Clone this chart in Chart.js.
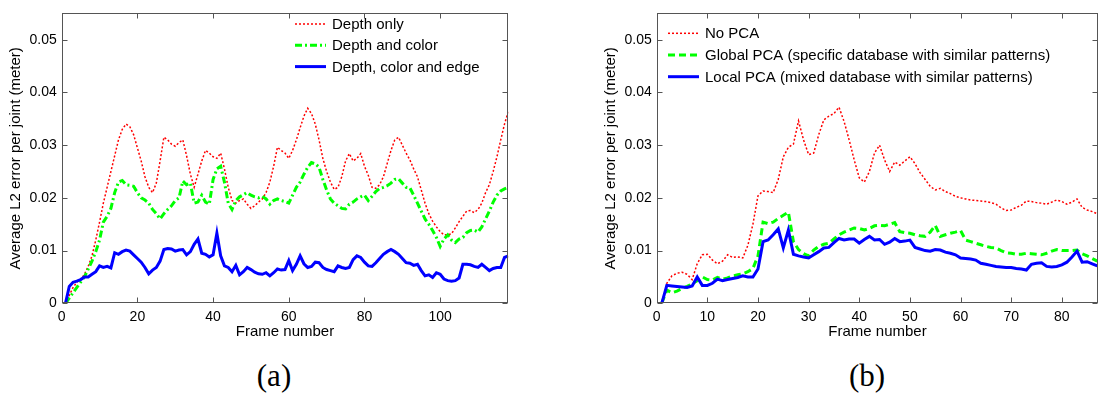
<!DOCTYPE html>
<html>
<head>
<meta charset="utf-8">
<script src="https://cdn.jsdelivr.net/npm/chart.js@4.4.1/dist/chart.umd.min.js"></script>
<style>
  html, body { margin: 0; padding: 0; background: #fff; }
  #wrap { position: relative; width: 1099px; height: 395px; overflow: hidden; }
  canvas { position: absolute; top: 0; }
  #chartA { left: 0; }
  #chartB { left: 595px; }
  .cap {
    position: absolute; top: 358px; width: 80px; text-align: center;
    font-family: "Liberation Serif", "DejaVu Serif", serif; font-size: 31px; color: #000;
  }
</style>
</head>
<body>
<div id="wrap">
  <canvas id="chartA" width="520" height="341"></canvas>
  <canvas id="chartB" width="504" height="341"></canvas>
  <div class="cap" style="left:234px">(a)</div>
  <div class="cap" style="left:827px">(b)</div>
</div>
<script>
// (a) per-frame error, frames 1..118
const depthOnly = [
  0, 0.0015, 0.003, 0.004, 0.0045, 0.0055, 0.007, 0.009, 0.012, 0.0154,
  0.019, 0.022, 0.025, 0.028, 0.031, 0.033, 0.034, 0.0335, 0.032, 0.0295,
  0.027, 0.024, 0.022, 0.021, 0.0228, 0.027, 0.0315, 0.031, 0.0302, 0.0298,
  0.0305, 0.031, 0.028, 0.0245, 0.022, 0.0245, 0.027, 0.029, 0.0285, 0.0278,
  0.0275, 0.0285, 0.0255, 0.022, 0.0195, 0.019, 0.0195, 0.0198, 0.0188, 0.018,
  0.0185, 0.0192, 0.0198, 0.021, 0.023, 0.026, 0.0296, 0.029, 0.0285, 0.0275,
  0.029, 0.031, 0.0333, 0.0355, 0.037, 0.036, 0.034, 0.031, 0.0275, 0.025,
  0.023, 0.0216, 0.022, 0.024, 0.027, 0.0284, 0.027, 0.0275, 0.0284, 0.026,
  0.0243, 0.022, 0.0218, 0.0225, 0.024, 0.0265, 0.029, 0.031, 0.0315, 0.03,
  0.0285, 0.0272, 0.0255, 0.024, 0.0215, 0.019, 0.017, 0.0156, 0.0145, 0.0136,
  0.013, 0.013, 0.0132, 0.0143, 0.0155, 0.0165, 0.0175, 0.0176, 0.0172, 0.0178,
  0.019, 0.021, 0.0225, 0.025, 0.0278, 0.031, 0.034, 0.0364
];
const depthColor = [
  0, 0.001, 0.002, 0.003, 0.004, 0.005, 0.0065, 0.008, 0.0098, 0.012,
  0.0154, 0.0165, 0.018, 0.021, 0.023, 0.0233, 0.0225, 0.0224, 0.0222, 0.021,
  0.02, 0.0196, 0.019, 0.0178, 0.017, 0.016, 0.017, 0.0178, 0.0185, 0.0195,
  0.02, 0.0232, 0.0225, 0.0228, 0.019, 0.0192, 0.0205, 0.0192, 0.0188, 0.0235,
  0.0255, 0.026, 0.023, 0.019, 0.0178, 0.0195, 0.0202, 0.0206, 0.021, 0.0205,
  0.0202, 0.02, 0.0203, 0.0198, 0.0188, 0.0195, 0.0198, 0.0195, 0.0193, 0.019,
  0.0205, 0.022, 0.023, 0.0245, 0.0258, 0.0267, 0.0265, 0.0258, 0.0235, 0.0215,
  0.0198, 0.019, 0.0185, 0.018, 0.0179, 0.0188, 0.0192, 0.0198, 0.0202, 0.0205,
  0.0195, 0.0203, 0.0212, 0.0218, 0.022, 0.0223, 0.0228, 0.0235, 0.0236, 0.0228,
  0.022, 0.0219, 0.0205, 0.019, 0.0175, 0.016, 0.015, 0.0138, 0.0125, 0.0108,
  0.0122, 0.013, 0.012, 0.0115, 0.0122, 0.0125, 0.0134, 0.0138, 0.0139, 0.0135,
  0.0145, 0.016, 0.0175, 0.0192, 0.0205, 0.0213, 0.0217, 0.022
];
const depthColorEdge = [
  0, 0.0032, 0.004, 0.0042, 0.0045, 0.005, 0.005, 0.0055, 0.006, 0.0071,
  0.0068, 0.007, 0.0067, 0.0096, 0.0093, 0.0098, 0.0101, 0.0099, 0.0092, 0.0085,
  0.0078, 0.0068, 0.0056, 0.0063, 0.0068, 0.008, 0.0102, 0.0104, 0.0103, 0.0099,
  0.0101, 0.0102, 0.0092, 0.0098, 0.0112, 0.0122, 0.0095, 0.0093, 0.0088, 0.0092,
  0.0133, 0.009, 0.0071, 0.0068, 0.006, 0.0072, 0.0054, 0.006, 0.0068, 0.0064,
  0.0059, 0.0056, 0.0055, 0.0058, 0.0052, 0.0058, 0.0065, 0.0063, 0.0064, 0.0081,
  0.0062, 0.0074, 0.009, 0.0075, 0.0068, 0.007, 0.0078, 0.0077, 0.0068, 0.0064,
  0.0062, 0.006, 0.0071, 0.0068, 0.0066, 0.0068, 0.0083, 0.009, 0.0087, 0.0078,
  0.0071, 0.007, 0.0077, 0.0085, 0.0093, 0.0098, 0.0102, 0.0098, 0.0093, 0.0085,
  0.0077, 0.0076, 0.0072, 0.0074, 0.0062, 0.0052, 0.0054, 0.0049, 0.0058, 0.0055,
  0.0046, 0.0043, 0.0042, 0.0043, 0.0048, 0.0074, 0.0074, 0.0073, 0.007, 0.0068,
  0.0074, 0.0068, 0.0062, 0.0066, 0.0068, 0.0068, 0.0087, 0.009
];

// (b) per-frame error, frames 1..87
const noPca = [
  0, 0.0038, 0.0052, 0.0057, 0.0059, 0.0055, 0.0045, 0.0075, 0.0092, 0.0093,
  0.0082, 0.0075, 0.008, 0.0092, 0.0087, 0.0088, 0.0086, 0.011, 0.015, 0.0204,
  0.0213, 0.0212, 0.021, 0.0235, 0.0278, 0.0296, 0.0302, 0.0346, 0.031, 0.0282,
  0.0285, 0.032, 0.0348, 0.0355, 0.036, 0.0372, 0.0345, 0.031, 0.0272, 0.0238,
  0.023, 0.025, 0.0285, 0.03, 0.0272, 0.025, 0.0268, 0.0262, 0.027, 0.0278,
  0.0265, 0.0248, 0.0235, 0.0222, 0.0215, 0.0218, 0.0212, 0.0208, 0.0203, 0.02,
  0.0198, 0.0196, 0.0195, 0.0194, 0.0193, 0.0191, 0.0188, 0.0181, 0.0176, 0.0177,
  0.0182, 0.0186, 0.0194, 0.0193, 0.0191, 0.019, 0.0188, 0.0192, 0.0196, 0.0193,
  0.0188, 0.0192, 0.0198, 0.0182, 0.0177, 0.0174, 0.017
];
const globalPca = [
  0, 0.0025, 0.002, 0.0023, 0.0028, 0.0032, 0.0037, 0.0043, 0.005, 0.0045,
  0.0044, 0.0049, 0.0046, 0.0048, 0.0052, 0.0054, 0.0056, 0.006, 0.0066, 0.009,
  0.0154, 0.0151, 0.0154, 0.0161, 0.0167, 0.0173, 0.0117, 0.0102, 0.0094, 0.009,
  0.0101, 0.0108, 0.0112, 0.0114, 0.0122, 0.013, 0.0135, 0.0139, 0.0143, 0.0142,
  0.0139, 0.0142, 0.0147, 0.0148, 0.0147, 0.015, 0.0153, 0.0136, 0.0134, 0.0133,
  0.013, 0.0128, 0.0127, 0.0135, 0.0148, 0.0127, 0.013, 0.0133, 0.0135, 0.0138,
  0.012, 0.0117, 0.0114, 0.0111, 0.0108, 0.0106, 0.0105, 0.01, 0.0096, 0.0095,
  0.0093, 0.0093, 0.0095, 0.0094, 0.0093, 0.0092, 0.0095, 0.0099, 0.0102, 0.01,
  0.01, 0.01, 0.0101, 0.0094, 0.009, 0.0085, 0.008
];
const localPca = [
  0, 0.0034, 0.0033, 0.0032, 0.0031, 0.003, 0.0033, 0.005, 0.0034, 0.0034,
  0.0038, 0.0046, 0.0043, 0.0045, 0.0047, 0.0049, 0.0052, 0.005, 0.005, 0.0065,
  0.0117, 0.012, 0.013, 0.0141, 0.0105, 0.0139, 0.0093, 0.009, 0.0088, 0.0086,
  0.0092, 0.0098, 0.0105, 0.0106, 0.0115, 0.0123, 0.012, 0.0122, 0.0122, 0.0114,
  0.0121, 0.0127, 0.012, 0.0121, 0.0112, 0.0116, 0.0123, 0.0117, 0.0118, 0.012,
  0.0106, 0.0103, 0.01, 0.0099, 0.0102, 0.0101, 0.0097, 0.0095, 0.0092, 0.0086,
  0.0085, 0.0084, 0.0082, 0.0076, 0.0074, 0.0072, 0.007, 0.0069, 0.0068, 0.0068,
  0.0066, 0.0065, 0.0063, 0.0074, 0.0076, 0.0077, 0.007, 0.0069, 0.007, 0.0073,
  0.0078, 0.0088, 0.0099, 0.0078, 0.0079, 0.0075, 0.0071
];

const labelsA = ['Depth only', 'Depth and color', 'Depth, color and edge'];
const labelsB = ['No PCA', 'Global PCA (specific database with similar patterns)',
  'Local PCA (mixed database with similar patterns)'];
const yTicks = [0, 0.01, 0.02, 0.03, 0.04, 0.05];
const xTicksA = [0, 20, 40, 60, 80, 100];
const xTicksB = [0, 10, 20, 30, 40, 50, 60, 70, 80];

const FONT = '"Liberation Sans", Arial, sans-serif';
Chart.defaults.font.family = FONT;
Chart.defaults.font.size = 14;
Chart.defaults.color = '#000';

const toPoints = (arr) => arr.map((v, i) => ({ x: i + 1, y: v }));

// MATLAB style box with inward ticks, plus an in-plot legend
const matlabAxes = {
  id: 'matlabAxes',
  afterDatasetsDraw(chart) {
    const { ctx, chartArea: a, scales: { x, y } } = chart;
    const L = Math.round(a.left) + 0.5, R = Math.round(a.right) - 0.5;
    const T = Math.round(a.top) + 0.5, B = Math.round(a.bottom) - 0.5;
    ctx.save();
    ctx.strokeStyle = '#555';
    ctx.lineWidth = 1;
    ctx.strokeRect(L, T, R - L, B - T);
    ctx.beginPath();
    x.ticks.forEach((t) => {
      const px = Math.round(x.getPixelForValue(t.value)) + 0.5;
      ctx.moveTo(px, B); ctx.lineTo(px, B - 5);
      ctx.moveTo(px, T); ctx.lineTo(px, T + 5);
    });
    y.ticks.forEach((t) => {
      const py = Math.round(y.getPixelForValue(t.value)) + 0.5;
      ctx.moveTo(L, py); ctx.lineTo(L + 5, py);
      ctx.moveTo(R, py); ctx.lineTo(R - 5, py);
    });
    ctx.stroke();
    ctx.restore();
  },
  afterDraw(chart, args, opts) {
    const { ctx } = chart;
    ctx.save();
    ctx.font = '15px ' + FONT;
    ctx.textBaseline = 'middle';
    ctx.fillStyle = '#000';
    chart.data.datasets.forEach((ds, i) => {
      const yy = opts.y0 + i * opts.dy;
      ctx.save();
      ctx.strokeStyle = ds.borderColor;
      ctx.lineWidth = ds.borderWidth;
      ctx.setLineDash(ds.borderDash || []);
      ctx.beginPath();
      ctx.moveTo(opts.x0, yy);
      ctx.lineTo(opts.x1, yy);
      ctx.stroke();
      ctx.restore();
      ctx.fillText(ds.label, opts.x1 + 6, yy + 1);
    });
    ctx.restore();
  },
};

function makeChart(id, labels, series, styles, xMax, xTicks, legendPos, rightPad) {
  return new Chart(document.getElementById(id), {
    type: 'line',
    data: {
      datasets: series.map((s, i) => ({
        label: labels[i],
        data: toPoints(s),
        borderColor: styles[i].color,
        borderWidth: styles[i].width,
        borderDash: styles[i].dash,
        order: styles[i].order,
        pointRadius: 0,
        tension: 0,
        fill: false,
      })),
    },
    options: {
      responsive: false,
      animation: false,
      devicePixelRatio: 1,
      layout: { padding: { top: 7, right: rightPad, left: 0, bottom: 0 } },
      plugins: {
        legend: { display: false },
        tooltip: { enabled: false },
        matlabAxes: legendPos,
      },
      scales: {
        x: {
          type: 'linear',
          min: 0,
          max: xMax,
          grid: { display: false, drawTicks: false },
          border: { display: false },
          ticks: { padding: 5, maxRotation: 0, autoSkip: false, font: { size: 14 } },
          afterBuildTicks: (s) => { s.ticks = xTicks.map((v) => ({ value: v })); },
          afterFit: (s) => { s.height = 341 - 303.3; },
          title: {
            display: true,
            text: 'Frame number',
            font: { size: 15 },
            padding: { top: 0, bottom: 0 },
          },
        },
        y: {
          min: 0,
          max: 0.055,
          grid: { display: false, drawTicks: false },
          border: { display: false },
          ticks: {
            padding: 5,
            font: { size: 14 },
            callback: (v) => (v === 0 ? '0' : v.toFixed(2)),
          },
          afterBuildTicks: (s) => { s.ticks = yTicks.map((v) => ({ value: v })); },
          afterFit: (s) => { s.width = 61.7; },
          title: {
            display: true,
            text: 'Average L2 error per joint (meter)',
            font: { size: 15 },
            padding: { top: 6.5, bottom: 0 },
          },
        },
      },
    },
    plugins: [matlabAxes],
  });
}

makeChart('chartA', labelsA, [depthOnly, depthColor, depthColorEdge], [
  { color: '#ff0000', width: 1.5, dash: [2, 2], order: 2 },
  { color: '#00ff00', width: 3, dash: [7, 3, 2, 3], order: 1 },
  { color: '#0000ff', width: 3, dash: [], order: 0 },
], 118, xTicksA, { x0: 295, x1: 326, y0: 24, dy: 21.3 }, 11.7);

makeChart('chartB', labelsB, [noPca, globalPca, localPca], [
  { color: '#ff0000', width: 1.5, dash: [2, 2], order: 2 },
  { color: '#00ff00', width: 3, dash: [7, 4], order: 1 },
  { color: '#0000ff', width: 3, dash: [], order: 0 },
], 87.2, xTicksB, { x0: 73, x1: 104, y0: 33.3, dy: 21.7 }, 0.7);
</script>
</body>
</html>
